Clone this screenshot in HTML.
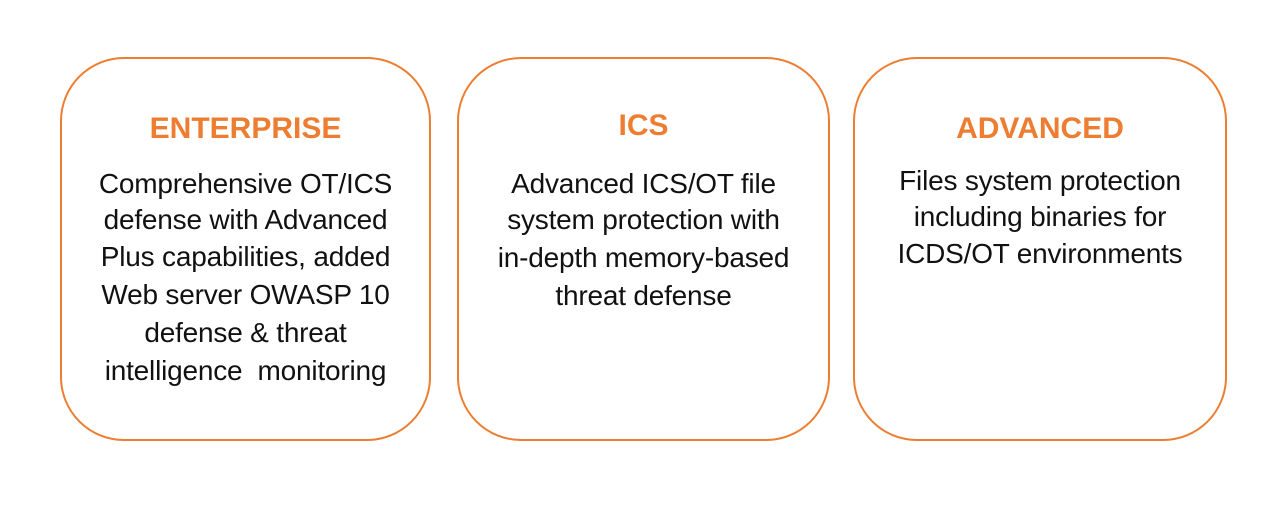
<!DOCTYPE html>
<html><head><style>
body{margin:0;width:1280px;height:514px;background:#fff;position:relative;overflow:hidden;font-family:"Liberation Sans",sans-serif}
.b{position:absolute;top:57px;width:371px;height:384px;border:2px solid #ED7D31;border-radius:64px;box-sizing:border-box}
.t{position:absolute;left:0;right:0;text-align:center;white-space:nowrap}
.h{color:#ED7D31;font-weight:bold;font-size:30px;line-height:36px}
.l{color:#111;font-size:28px;line-height:32px;letter-spacing:-0.2px}
</style></head><body>
<div class="b" style="left:60px">
<div class="t h" style="top:52px">ENTERPRISE</div>
<div class="t l" style="top:109px">Comprehensive OT/ICS</div>
<div class="t l" style="top:145px">defense with Advanced</div>
<div class="t l" style="top:182px">Plus capabilities, added</div>
<div class="t l" style="top:220px">Web server OWASP 10</div>
<div class="t l" style="top:258px">defense &amp; threat</div>
<div class="t l" style="top:296px">intelligence&nbsp; monitoring</div>
</div>
<div class="b" style="left:457px;width:373px">
<div class="t h" style="top:49px">ICS</div>
<div class="t l" style="top:109px">Advanced ICS/OT file</div>
<div class="t l" style="top:145px">system protection with</div>
<div class="t l" style="top:183px">in-depth memory-based</div>
<div class="t l" style="top:221px">threat defense</div>
</div>
<div class="b" style="left:853px;width:374px">
<div class="t h" style="top:52px">ADVANCED</div>
<div class="t l" style="top:106px">Files system protection</div>
<div class="t l" style="top:142px">including binaries for</div>
<div class="t l" style="top:179px">ICDS/OT environments</div>
</div>
</body></html>
